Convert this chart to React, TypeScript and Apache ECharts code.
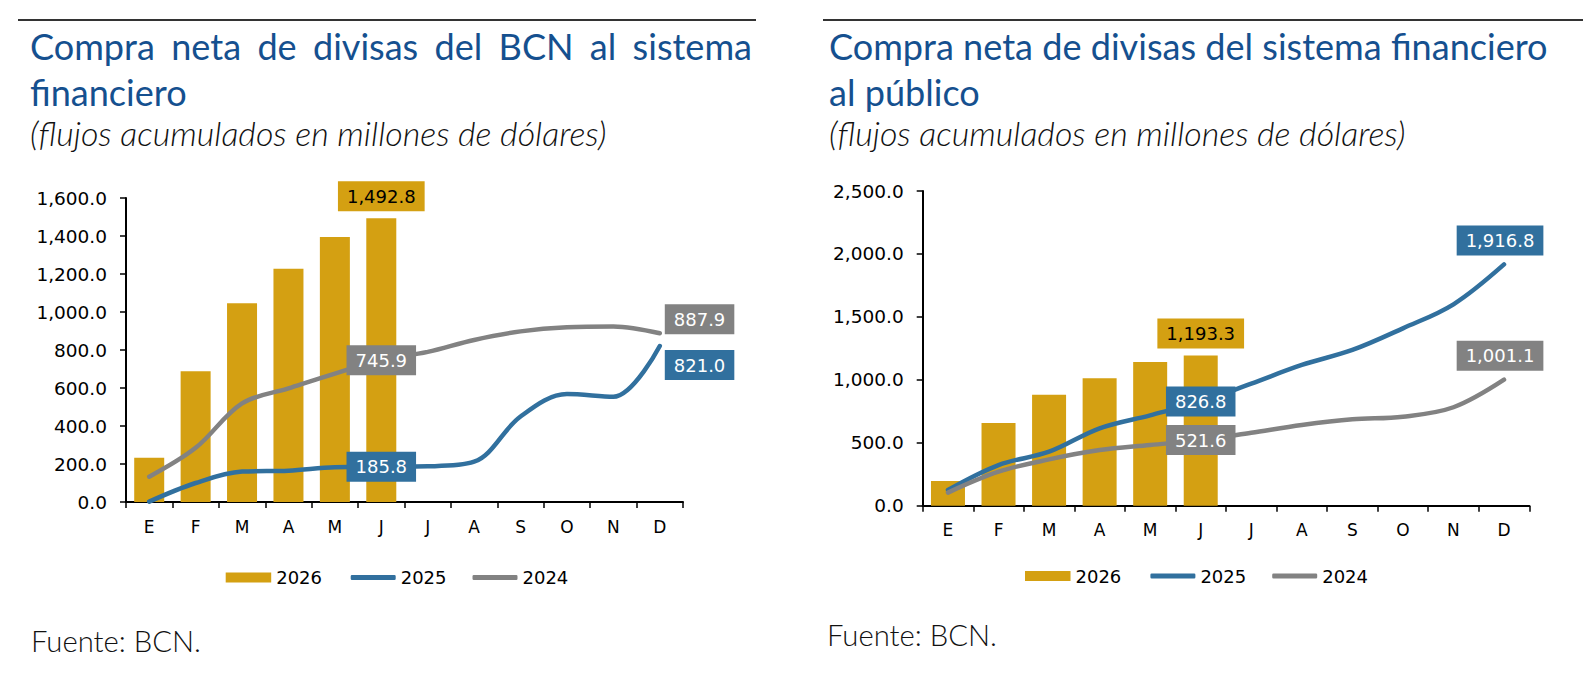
import React, { useEffect, useRef } from "react";
import * as echarts from "echarts";

// ---------- data ----------
const MONTHS = ["E", "F", "M", "A", "M", "J", "J", "A", "S", "O", "N", "D"];
const NAMES = ["2026", "2025", "2024"];

const L_BARS_2026 = [233, 688, 1046, 1228, 1395, 1492.8];
const L_LINE_2025 = [2, 100, 160, 165, 183, 185.8, 188, 212, 450, 568, 554, 821.0];
const L_LINE_2024 = [133, 285, 519, 598, 676, 745.9, 790, 853, 898, 920, 924, 887.9];

const R_BARS_2026 = [196, 657, 882, 1012, 1142, 1193.3];
const R_LINE_2025 = [125, 323, 429, 615, 718, 826.8, 970, 1118, 1237, 1409, 1600, 1916.8];
const R_LINE_2024 = [104, 270, 368, 442, 482, 521.6, 580, 641, 686, 707, 782, 1001.1];

const L_Y = { min: 0, max: 1600, interval: 200 };
const R_Y = { min: 0, max: 2500, interval: 500 };

const L_TITLE_1 = "Compra neta de divisas del BCN al sistema";
const L_TITLE_2 = "financiero";
const R_TITLE_1 = "Compra neta de divisas del sistema financiero";
const R_TITLE_2 = "al público";
const SUBTITLE = "(flujos acumulados en millones de dólares)";
const SOURCE = "Fuente: BCN.";

// ---------- style ----------
const GOLD = "#D4A012";
const BLUE = "#31709E";
const GREY = "#828282";
const TITLE_BLUE = "#15508F";
const NUM_FONT = "DejaVu Sans";
const TXT_FONT = "Lato";

const fmt = (v: number) =>
  v.toLocaleString("en-US", { minimumFractionDigits: 1, maximumFractionDigits: 1 });

function textWidth(text: string, font: string): number {
  const c = document.createElement("canvas").getContext("2d");
  if (!c) return text.length * 15;
  c.font = font;
  return c.measureText(text).width;
}

function justified(text: string, x0: number, x1: number, y: number, fs: number, color: string) {
  const words = text.split(" ");
  const font = `${fs}px ${TXT_FONT}`;
  const widths = words.map((w) => textWidth(w, font));
  const total = widths.reduce((a, b) => a + b, 0);
  const gap = (x1 - x0 - total) / (words.length - 1);
  let x = x0;
  return words.map((w, i) => {
    const el = {
      type: "text",
      x,
      y,
      style: { text: w, fill: color, fontSize: fs, fontFamily: TXT_FONT, verticalAlign: "middle", align: "left" },
    };
    x += widths[i] + gap;
    return el;
  });
}

function boxLabel(bg: string, color: string, extra: any) {
  return {
    show: true,
    backgroundColor: bg,
    color,
    padding: [4, 9],
    fontSize: 18,
    lineHeight: 22,
    fontFamily: NUM_FONT,
    formatter: (p: any) => fmt(p.value),
    ...extra,
  };
}

function withLabels(values: number[], labels: Record<number, any>) {
  return values.map((v, i) => (labels[i] ? { value: v, label: labels[i] } : v));
}

export default function App() {
  const ref = useRef<HTMLDivElement>(null);

  useEffect(() => {
    if (!ref.current) return;
    const chart = echarts.init(ref.current, undefined, { renderer: "svg" });

    const base = textWidth(R_TITLE_1, `32px ${TXT_FONT}`);
    const titleFs = Math.max(26, Math.min(38, (32 * 719) / base));
    const subBase = textWidth(SUBTITLE, `italic 27px ${TXT_FONT}`);
    const subFs = Math.max(22, Math.min(34, (27 * 600) / subBase));
    const srcBase = textWidth(SOURCE, `300 28px ${TXT_FONT}`);
    const srcFs = Math.max(22, Math.min(34, (28 * 170) / srcBase));

    const xAxisCommon = {
      type: "category",
      data: MONTHS,
      boundaryGap: true,
      axisLine: { show: true, lineStyle: { color: "#000", width: 2 } },
      axisTick: { show: true, length: 6, alignWithLabel: false, lineStyle: { color: "#000", width: 1.5 } },
      axisLabel: { color: "#000", fontSize: 17, fontFamily: NUM_FONT, margin: 16, interval: 0 },
      splitLine: { show: false },
    };
    const yAxisCommon = {
      type: "value",
      axisLine: { show: true, lineStyle: { color: "#000", width: 2 } },
      axisTick: { show: true, length: 6, lineStyle: { color: "#000", width: 1.5 } },
      axisLabel: { color: "#000", fontSize: 18.5, fontFamily: NUM_FONT, margin: 19, formatter: (v: number) => fmt(v) },
      splitLine: { show: false },
    };

    const lineCommon = {
      type: "line",
      smooth: 0.35,
      symbol: "circle",
      symbolSize: 0,
      showSymbol: true,
      showAllSymbol: true,
      z: 3,
      emphasis: { disabled: true },
    };

    const series: any[] = [
      // left chart
      {
        name: NAMES[0],
        type: "bar",
        xAxisIndex: 0,
        yAxisIndex: 0,
        barWidth: 30,
        itemStyle: { color: GOLD },
        emphasis: { disabled: true },
        data: withLabels(L_BARS_2026, { 5: boxLabel(GOLD, "#000", { position: "top", distance: 7 }) }),
      },
      {
        ...lineCommon,
        name: NAMES[1],
        xAxisIndex: 0,
        yAxisIndex: 0,
        itemStyle: { color: BLUE },
        lineStyle: { color: BLUE, width: 4.5, cap: "round" },
        data: withLabels(L_LINE_2025, {
          5: boxLabel(BLUE, "#fff", { position: "inside" }),
          11: boxLabel(BLUE, "#fff", { position: "right", distance: 5, offset: [0, 19] }),
        }),
      },
      {
        ...lineCommon,
        name: NAMES[2],
        xAxisIndex: 0,
        yAxisIndex: 0,
        itemStyle: { color: GREY },
        lineStyle: { color: GREY, width: 4.5, cap: "round" },
        data: withLabels(L_LINE_2024, {
          5: boxLabel(GREY, "#fff", { position: "inside" }),
          11: boxLabel(GREY, "#fff", { position: "right", distance: 5, offset: [0, -14] }),
        }),
      },
      // right chart
      {
        name: NAMES[0],
        type: "bar",
        xAxisIndex: 1,
        yAxisIndex: 1,
        barWidth: 34,
        itemStyle: { color: GOLD },
        emphasis: { disabled: true },
        data: withLabels(R_BARS_2026, { 5: boxLabel(GOLD, "#000", { position: "top", distance: 7 }) }),
      },
      {
        ...lineCommon,
        name: NAMES[1],
        xAxisIndex: 1,
        yAxisIndex: 1,
        itemStyle: { color: BLUE },
        lineStyle: { color: BLUE, width: 4.5, cap: "round" },
        data: withLabels(R_LINE_2025, {
          5: boxLabel(BLUE, "#fff", { position: "inside" }),
          11: boxLabel(BLUE, "#fff", { position: "top", distance: 9, offset: [-4, 0] }),
        }),
      },
      {
        ...lineCommon,
        name: NAMES[2],
        xAxisIndex: 1,
        yAxisIndex: 1,
        itemStyle: { color: GREY },
        lineStyle: { color: GREY, width: 4.5, cap: "round" },
        data: withLabels(R_LINE_2024, {
          5: boxLabel(GREY, "#fff", { position: "inside" }),
          11: boxLabel(GREY, "#fff", { position: "top", distance: 9, offset: [-4, 0] }),
        }),
      },
    ];

    const legendText = { color: "#000", fontSize: 18, fontFamily: NUM_FONT, lineHeight: 20 };
    const legends = [
      { left: 225.7, top: 567.5, data: [NAMES[0]], icon: "rect", itemWidth: 45.5, itemHeight: 10 },
      { left: 350.7, top: 567.5, data: [NAMES[1], NAMES[2]], icon: "roundRect", itemWidth: 45, itemHeight: 5 },
      { left: 1025, top: 566, data: [NAMES[0]], icon: "rect", itemWidth: 45.5, itemHeight: 10 },
      { left: 1150.4, top: 566, data: [NAMES[1], NAMES[2]], icon: "roundRect", itemWidth: 45, itemHeight: 5 },
    ].map((l) => ({ ...l, padding: 0, itemGap: 26, selectedMode: false, textStyle: legendText }));

    const titleY1 = 60 - 0.38 * titleFs;
    const titleY2 = 105.5 - 0.38 * titleFs;
    const subY = 145 - 0.36 * subFs;
    const titleStyle = (text: string) => ({
      text,
      fill: TITLE_BLUE,
      fontSize: titleFs,
      fontFamily: TXT_FONT,
      verticalAlign: "middle",
      align: "left",
    });
    const subStyle = {
      text: SUBTITLE,
      fill: "#111",
      fontSize: subFs,
      fontFamily: TXT_FONT,
      fontStyle: "italic",
      fontWeight: 300,
      verticalAlign: "middle",
      align: "left",
    };
    const srcStyle = {
      text: SOURCE,
      fill: "#111",
      fontSize: srcFs,
      fontFamily: TXT_FONT,
      fontWeight: 300,
      verticalAlign: "middle",
      align: "left",
    };

    const graphic: any[] = [
      { type: "line", shape: { x1: 18, y1: 20, x2: 756, y2: 20 }, style: { stroke: "#333", lineWidth: 2 } },
      { type: "line", shape: { x1: 823, y1: 20, x2: 1583, y2: 20 }, style: { stroke: "#333", lineWidth: 2 } },
      ...justified(L_TITLE_1, 30, 752, titleY1, titleFs, TITLE_BLUE),
      { type: "text", x: 30, y: titleY2, style: titleStyle(L_TITLE_2) },
      { type: "text", x: 829, y: titleY1, style: titleStyle(R_TITLE_1) },
      { type: "text", x: 829, y: titleY2, style: titleStyle(R_TITLE_2) },
      { type: "text", x: 30, y: subY, style: subStyle },
      { type: "text", x: 829, y: subY, style: subStyle },
      { type: "text", x: 31, y: 640, style: srcStyle },
      { type: "text", x: 827, y: 634, style: srcStyle },
    ];

    chart.setOption({
      animation: false,
      backgroundColor: "#fff",
      grid: [
        { left: 126, top: 198, width: 557, height: 304 },
        { left: 922.7, top: 191, width: 606.6, height: 314.7 },
      ],
      xAxis: [
        { ...xAxisCommon, gridIndex: 0 },
        { ...xAxisCommon, gridIndex: 1 },
      ],
      yAxis: [
        { ...yAxisCommon, gridIndex: 0, ...L_Y },
        { ...yAxisCommon, gridIndex: 1, ...R_Y },
      ],
      legend: legends,
      series,
      graphic,
    });

    return () => chart.dispose();
  }, []);

  return (
    <div
      ref={ref}
      style={{ position: "fixed", left: 0, top: 0, width: 1596, height: 692, background: "#fff" }}
    />
  );
}
